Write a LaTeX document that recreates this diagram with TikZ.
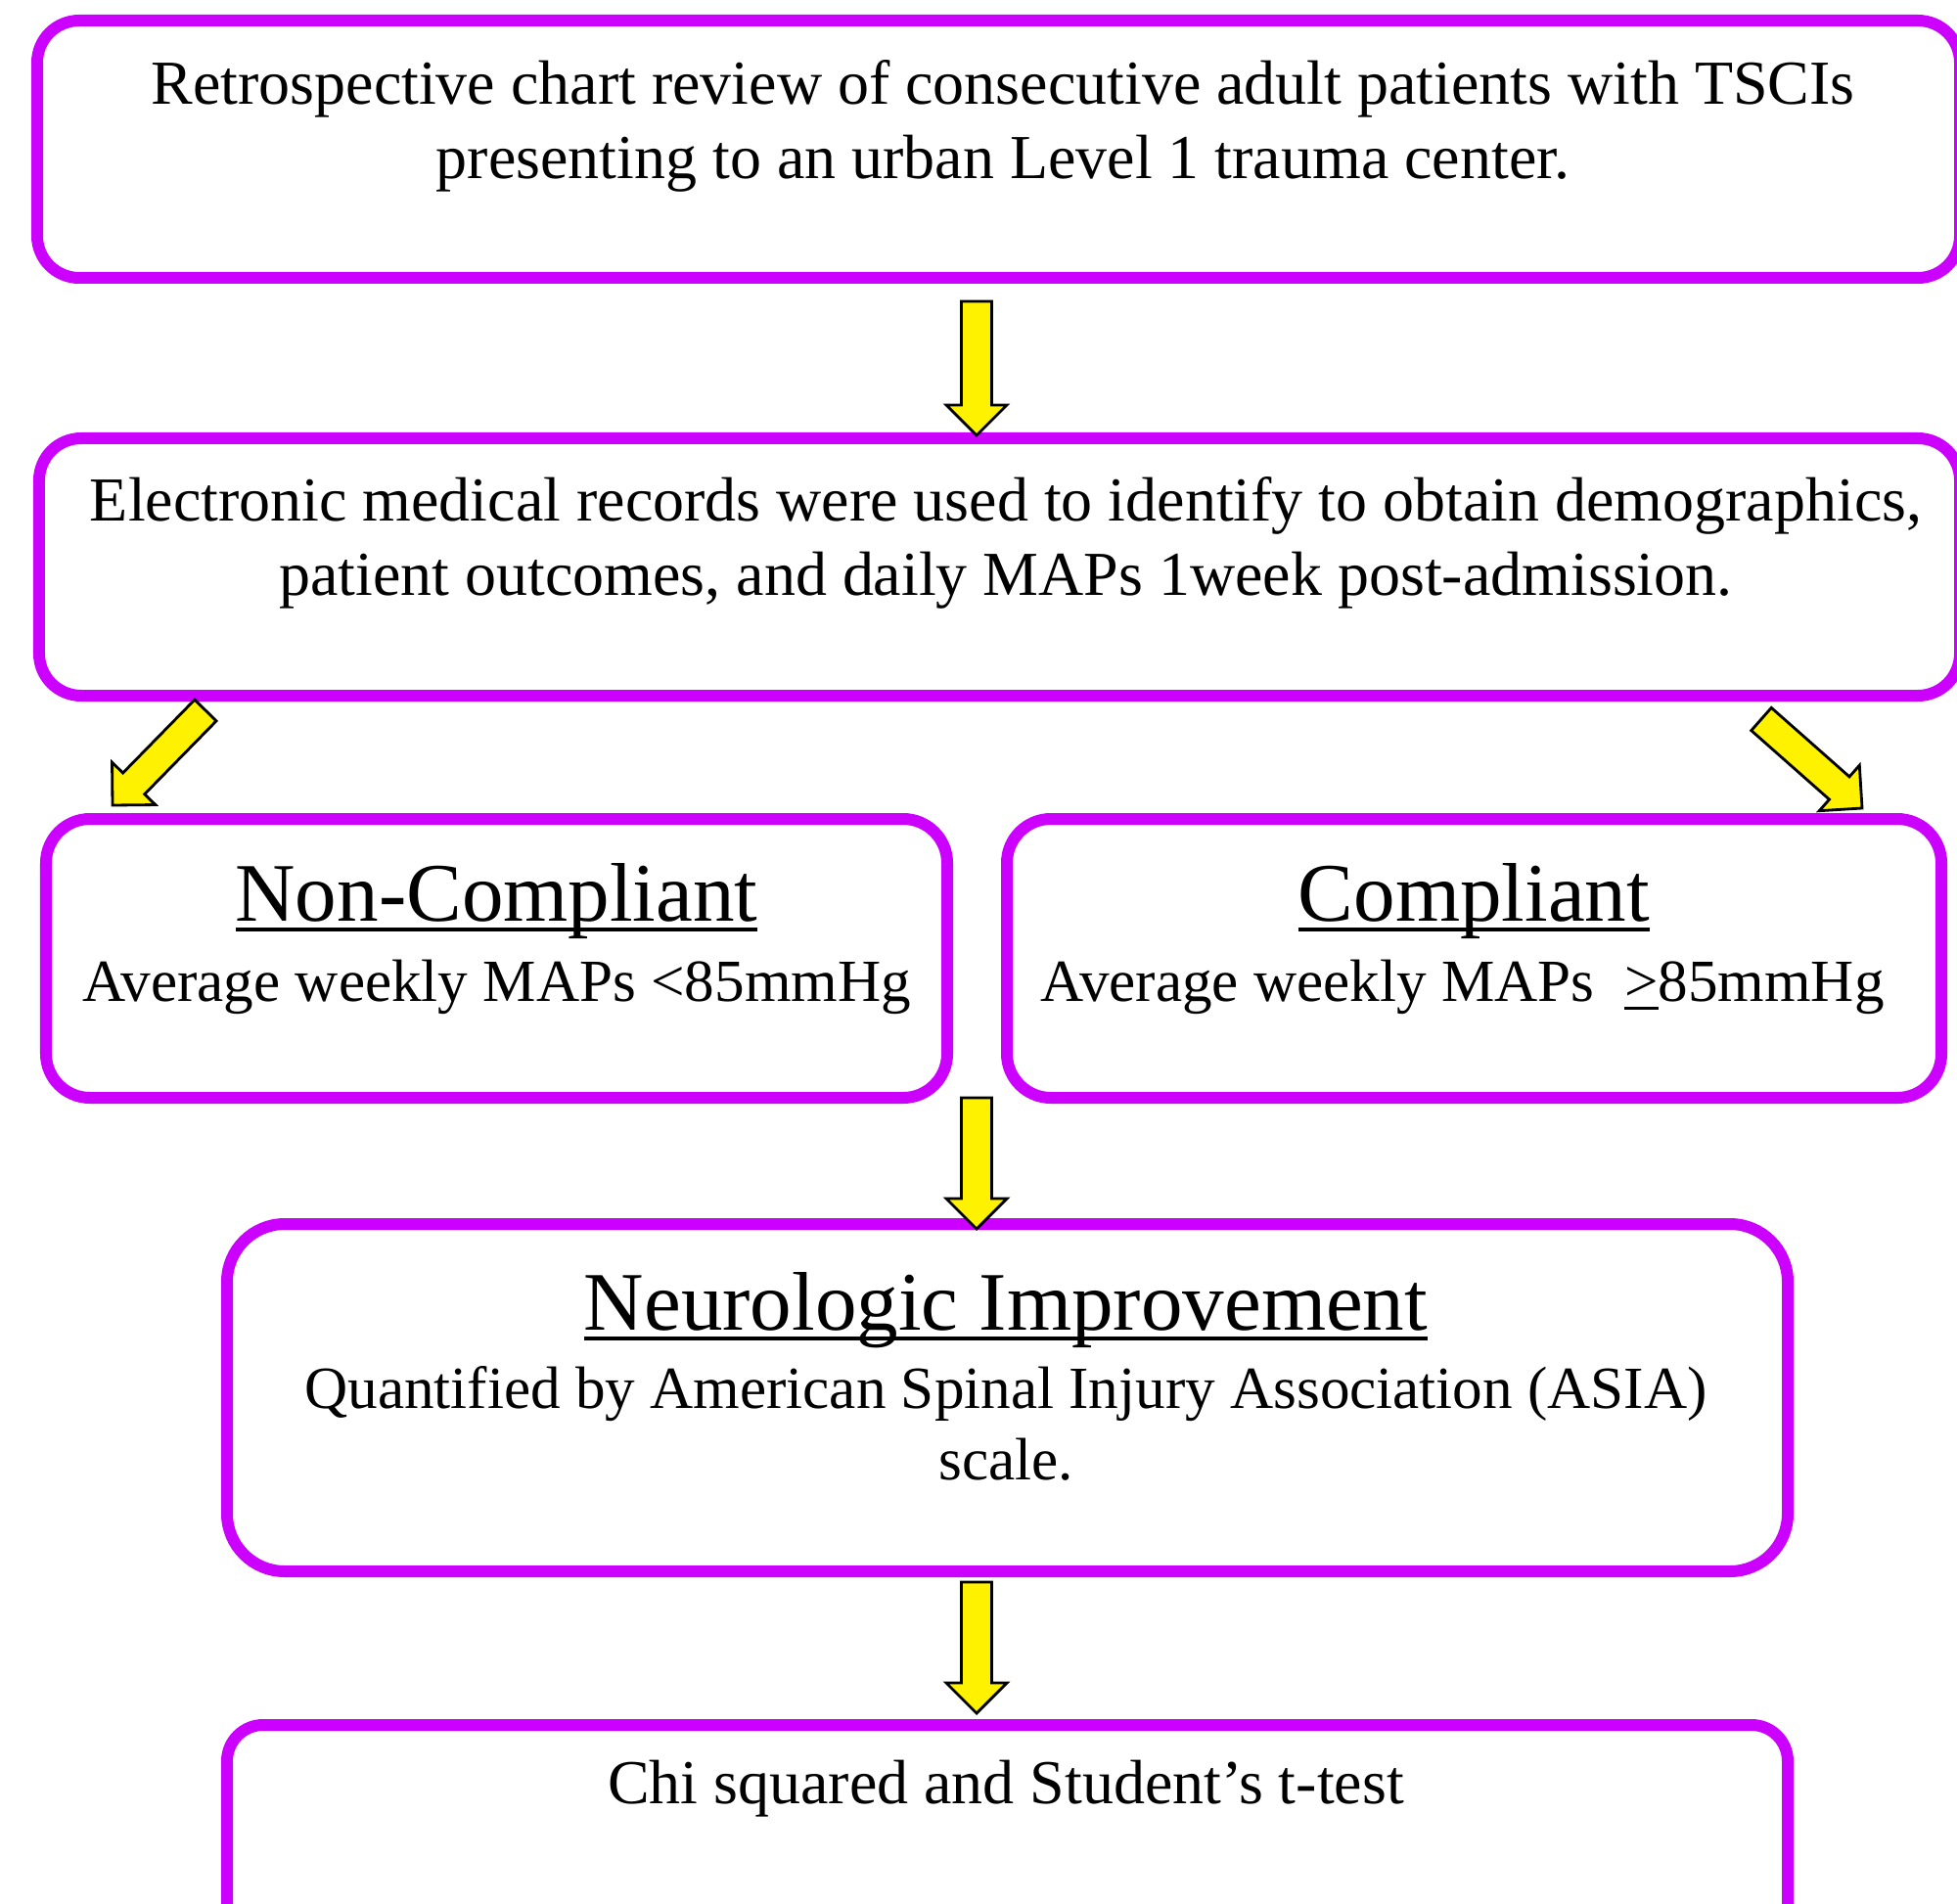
\documentclass[tikz,border=0pt]{standalone}
\usepackage{fontspec}
\setmainfont{Liberation Serif}
\usetikzlibrary{calc,positioning}

\definecolor{boxpurple}{RGB}{204,0,255}
\newcommand{\undl}[2][3pt]{\setbox0=\hbox{#2}\rlap{\rule[-#1]{\wd0}{0.9pt}}\box0\relax}

\begin{document}
\begin{tikzpicture}[
        flowbox/.style={draw=boxpurple, line width=0.12cm, rounded corners=#1, inner sep=0pt},
        flowbox/.default=0.43cm,
        bodytext/.style={font=\fontsize{18.2}{21.8}\selectfont, align=center, anchor=base, inner sep=0pt},
        headtext/.style={font=\fontsize{24.2}{28}\selectfont, anchor=base, inner sep=0pt},
        smalltext/.style={font=\fontsize{17.4}{20.6}\selectfont, align=center, anchor=base, inner sep=0pt},
        blockarr/.style={draw=black, fill=yellow, line width=0.8pt, to path={
            ($(\tikztostart)!0.155cm!90:(\tikztotarget)$)
            -- ($(\tikztotarget)!0.31cm!(\tikztostart)!0.155cm!90:(\tikztotarget)$)
            -- ($(\tikztotarget)!0.31cm!(\tikztostart)!0.31cm!90:(\tikztotarget)$)
            -- (\tikztotarget)
            -- ($(\tikztotarget)!0.31cm!(\tikztostart)!0.31cm!-90:(\tikztotarget)$)
            -- ($(\tikztotarget)!0.31cm!(\tikztostart)!0.155cm!-90:(\tikztotarget)$)
            -- ($(\tikztostart)!0.155cm!-90:(\tikztotarget)$) -- cycle}}
    ]
        \useasboundingbox (0,0) rectangle (20,-19.46);
        \clip (0,0) rectangle (20,-19.46);

        % boxes
        \node[flowbox, minimum width=19.65cm, minimum height=2.63cm] (review) at (10.205,-1.525) {};
        \node[flowbox, minimum width=19.63cm, minimum height=2.63cm] (records) at (10.215,-5.795) {};
        \node[flowbox=0.45cm, minimum width=9.21cm, minimum height=2.85cm] (noncomp) at (5.075,-9.795) {};
        \node[flowbox=0.45cm, minimum width=9.55cm, minimum height=2.85cm] (comp) at (15.065,-9.795) {};
        \node[flowbox=0.59cm, minimum width=15.95cm, minimum height=3.55cm] (neuro) at (10.295,-14.285) {};
        \node[flowbox=0.37cm, minimum width=15.95cm, minimum height=3.4cm] (stats) at (10.295,-19.33) {};

        % texts (base = last line)
        \node[bodytext] (reviewtxt) at ([xshift=0.045cm,yshift=-1.68cm]review.north)
            {Retrospective chart review of consecutive adult patients with TSCIs\\presenting to an urban Level 1 trauma center.};
        \node[bodytext] (recordstxt) at ([xshift=0.065cm,yshift=-1.67cm]records.north)
            {Electronic medical records were used to identify to obtain demographics,\\patient outcomes, and daily MAPs 1week post-admission.};
        \node[headtext] (noncomphead) at ([yshift=-1.10cm]noncomp.north) {\undl{Non-Compliant}};
        \node[smalltext] (noncompbody) at ([yshift=-1.92cm]noncomp.north) {Average weekly MAPs <85mmHg};
        \node[headtext] (comphead) at ([yshift=-1.10cm]comp.north) {\undl{Compliant}};
        \node[smalltext] (compbody) at ([xshift=-0.12cm,yshift=-1.92cm]comp.north) {Average weekly MAPs~ \undl[2.5pt]{>}85mmHg};
        \node[headtext] (neurohead) at ([xshift=-0.015cm,yshift=-1.14cm]neuro.north) {\undl{Neurologic Improvement}};
        \node[smalltext] (neurobody) at ([xshift=-0.015cm,yshift=-2.67cm]neuro.north)
            {Quantified by American Spinal Injury Association (ASIA)\\scale.};
        \node[bodytext] (statstxt) at ([xshift=-0.015cm,yshift=-0.86cm]stats.north) {Chi squared and Student’s t-test};

        % arrows
        \coordinate (a1s) at (9.98,-3.08);
        \coordinate (a1e) at (9.98,-4.45);
        \coordinate (a2s) at (2.10,-7.26);
        \coordinate (a2e) at (1.15,-8.23);
        \coordinate (a3s) at (18.00,-7.35);
        \coordinate (a3e) at (19.03,-8.26);
        \coordinate (a4s) at (9.98,-11.22);
        \coordinate (a4e) at (9.98,-12.56);
        \coordinate (a5s) at (9.98,-16.17);
        \coordinate (a5e) at (9.98,-17.51);

        \draw[blockarr] (a1s) to (a1e);
        \draw[blockarr] (a2s) to (a2e);
        \draw[blockarr] (a3s) to (a3e);
        \draw[blockarr] (a4s) to (a4e);
        \draw[blockarr] (a5s) to (a5e);
\end{tikzpicture}
\end{document}
